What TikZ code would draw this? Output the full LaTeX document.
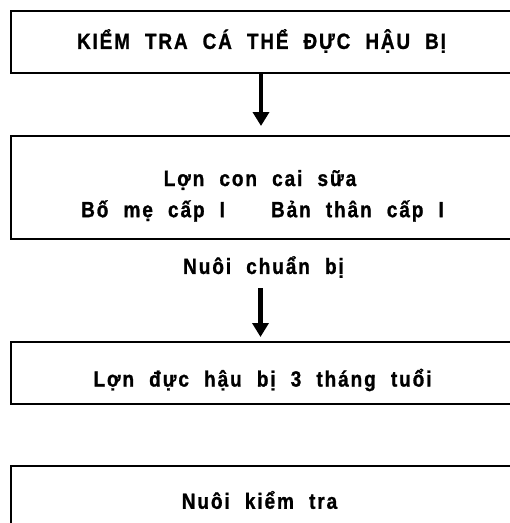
\documentclass[tikz,border=0pt]{standalone}
\usepackage{fontspec}
\setmainfont{Liberation Sans}[WordSpace=2.1,LetterSpace=10,BoldFeatures={FakeBold=1.2}]
\usetikzlibrary{arrows.meta}
\newcommand{\sqz}[1]{\scalebox{0.865}[1]{#1}}
\begin{document}
\begin{tikzpicture}[x=1pt,y=-1pt,
  box/.style={draw=black,line width=1.8pt,rectangle,inner sep=0pt,anchor=north west},
  lbl/.style={font=\bfseries\fontsize{22}{26}\selectfont,inner sep=0pt,anchor=center},
  arr/.style={line width=4.5pt,-{Triangle[width=16pt,length=14pt]}}]
\useasboundingbox (0,0) rectangle (510,523);
\begin{scope}
\clip (0,0) rectangle (510,523);
\node[box,minimum width=520pt,minimum height=62pt] (b1) at (10,10) {};
\node[box,minimum width=520pt,minimum height=103pt] (b2) at (10,135) {};
\node[box,minimum width=520pt,minimum height=62pt] (b3) at (10,341) {};
\node[box,minimum width=520pt,minimum height=80pt] (b4) at (10,465) {};
\end{scope}
\node[lbl] (t1) at (261.5,41) {\scalebox{0.86}[1]{KIỂM TRA CÁ THỂ ĐỰC HẬU BỊ}};
\node[lbl] (t2a) at (260,180) {\sqz{Lợn con cai sữa}};
\node[lbl] (t2b) at (262.5,211) {\sqz{Bố mẹ cấp I}\hspace{46pt}\sqz{Bản thân cấp I}};
\node[lbl] (t3) at (263.5,267) {\sqz{Nuôi chuẩn bị}};
\node[lbl] (t4) at (262.5,380) {\sqz{Lợn đực hậu bị 3 tháng tuổi}};
\node[lbl] (t5) at (259.5,500) {\sqz{Nuôi kiểm tra}};
\coordinate (a1) at (261,41);
\coordinate (a2s) at (260.5,288);
\draw[arr] (b1.south -| a1) -- ([yshift=9pt]b2.north -| a1);
\draw[arr] (a2s) -- ([yshift=4pt]b3.north -| a2s);
\end{tikzpicture}
\end{document}
